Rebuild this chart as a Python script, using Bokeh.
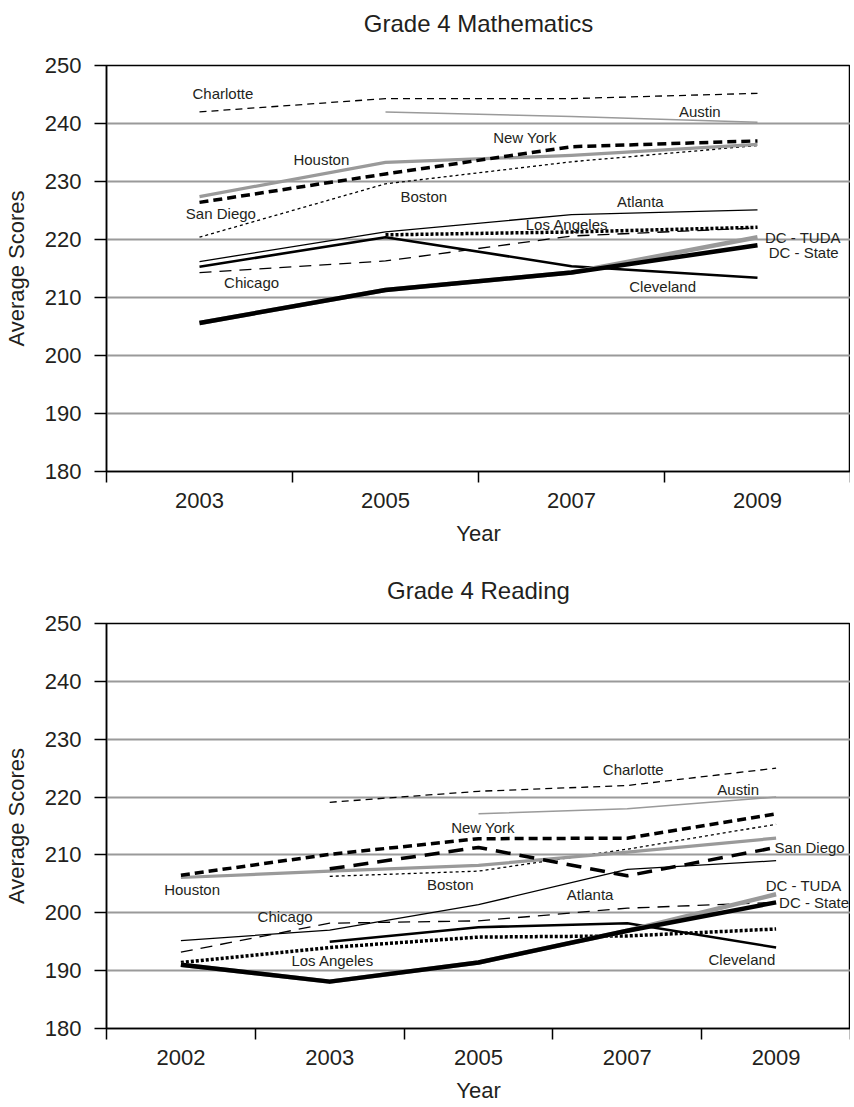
from bokeh.plotting import figure
from bokeh.models import Range1d, FixedTicker, ColumnDataSource, Title
from bokeh.layouts import column
from bokeh.embed import file_html
from bokeh.resources import INLINE
from bokeh.core.properties import value

# ---------------- data ----------------
math_years = ["2003", "2005", "2007", "2009"]
read_years = ["2002", "2003", "2005", "2007", "2009"]
y_ticks = [180, 190, 200, 210, 220, 230, 240, 250]

# Grade 4 Mathematics
m_charlotte = [242, 244.3, 244.3, 245.2]
m_austin = [None, 242, 241.2, 240.2]
m_houston = [227.4, 233.3, 234.5, 236.4]
m_new_york = [226.4, 231.3, 236, 237]
m_boston = [220.4, 229.6, 233.4, 236.2]
m_atlanta = [216.2, 221.3, 224.3, 225.1]
m_los_angeles = [None, 220.8, 221.3, 222.1]
m_chicago = [214.3, 216.3, 220.6, 222]
m_cleveland = [215.3, 220.4, 215.4, 213.4]
m_dc_tuda = [205.6, 211.3, 214.3, 220.4]
m_dc_state = [205.6, 211.3, 214.3, 219]

# Grade 4 Reading
r_charlotte = [None, 219.1, 221, 222, 225]
r_austin = [None, None, 217.1, 218, 220]
r_new_york = [206.5, 210.1, 212.8, 212.9, 217.1]
r_san_diego = [None, 207.6, 211.3, 206.4, 211.3]
r_houston = [206.1, 207.2, 208.2, 210.5, 212.9]
r_boston = [None, 206.3, 207.2, 211, 215.3]
r_atlanta = [195.2, 197, 201.4, 207.5, 209]
r_chicago = [193.2, 198.2, 198.6, 200.8, 201.8]
r_cleveland = [None, 195, 197.5, 198.2, 194]
r_los_angeles = [191.4, 194, 195.8, 196, 197.2]
r_dc_tuda = [191, 188.1, 191.4, 196.9, 203.2]
r_dc_state = [191, 188.1, 191.4, 196.9, 201.8]

# series label placement (category index, score)
m_label_names = ["Charlotte", "Austin", "New York", "Houston", "Boston", "San Diego",
                 "Atlanta", "Los Angeles", "DC - TUDA", "DC - State", "Chicago", "Cleveland"]
m_label_x = [0.126, 2.69, 1.75, 0.655, 1.206, 0.115, 2.37, 1.976, 3.04, 3.06, 0.28, 2.49]
m_label_y = [245.2, 242.1, 237.6, 233.8, 227.4, 224.5, 226.6, 222.6, 220.3, 217.8, 212.6, 211.9]
m_label_align = ["center"] * 8 + ["left", "left"] + ["center"] * 2

r_label_names = ["Charlotte", "Austin", "New York", "Houston", "Boston", "San Diego",
                 "Atlanta", "Los Angeles", "DC - TUDA", "DC - State", "Chicago", "Cleveland"]
r_label_x = [3.04, 3.745, 2.03, 0.075, 1.81, 3.99, 2.75, 1.02, 3.93, 4.02, 0.70, 3.77]
r_label_y = [224.8, 221.3, 214.8, 204.1, 204.9, 211.2, 203.2, 191.8, 204.8, 201.7, 199.4, 192.0]
r_label_align = ["center"] * 5 + ["left", "center", "center", "left", "left", "center", "center"]

FONT = "Liberation Sans"
TXT = "#231f20"
GRAY = "#9a9a9a"

STYLES = {
    "charlotte": dict(line_color="black", line_width=1.3, line_dash="7 5"),
    "austin": dict(line_color=GRAY, line_width=1.5),
    "houston": dict(line_color=GRAY, line_width=3.2),
    "new_york": dict(line_color="black", line_width=3.5, line_dash="9 5"),
    "san_diego": dict(line_color="black", line_width=3.5, line_dash="15 9"),
    "boston": dict(line_color="black", line_width=1.3, line_dash="3 3"),
    "atlanta": dict(line_color="black", line_width=1.3),
    "los_angeles": dict(line_color="black", line_width=3.5, line_dash="3 2"),
    "chicago": dict(line_color="black", line_width=1.3, line_dash="12 8"),
    "cleveland": dict(line_color="black", line_width=2.6),
    "dc_tuda": dict(line_color=GRAY, line_width=4.5),
    "dc_state": dict(line_color="black", line_width=4.5),
}


def make_fig(title, title_offset, spacer, years, series, lab_names, lab_x, lab_y, lab_align,
             height, top_border, bottom_border):
    n = len(years)
    p = figure(width=850, height=height, output_backend="svg", toolbar_location=None,
               x_range=Range1d(-0.5, n - 0.5), y_range=Range1d(180, 250),
               min_border_left=102, min_border_right=0,
               min_border_top=top_border, min_border_bottom=bottom_border)
    # invisible spacer between frame and the title
    p.add_layout(Title(text=" ", text_font_size="2px", standoff=spacer), "above")
    p.title.text = title
    p.title.align = "center"
    p.title.offset = title_offset
    p.title.text_font = FONT
    p.title.text_font_size = "24px"
    p.title.text_font_style = "normal"
    p.title.text_color = TXT
    p.title.standoff = 10

    p.outline_line_color = "black"
    p.outline_line_width = 1.5
    p.background_fill_color = "white"
    p.border_fill_color = "white"

    # x axis
    xa = p.xaxis[0]
    xa.ticker = FixedTicker(ticks=list(range(n)), minor_ticks=[i - 0.5 for i in range(n + 1)])
    xa.major_label_overrides = {i: years[i] for i in range(n)}
    xa.major_tick_line_color = None
    xa.major_tick_out = 0
    xa.major_tick_in = 0
    xa.minor_tick_line_color = "black"
    xa.minor_tick_line_width = 1.5
    xa.minor_tick_out = 11
    xa.minor_tick_in = 0
    xa.axis_line_color = "black"
    xa.axis_line_width = 1.5
    xa.major_label_text_font = FONT
    xa.major_label_text_font_size = "22px"
    xa.major_label_text_color = TXT
    xa.major_label_standoff = 10
    xa.axis_label = "Year"
    xa.axis_label_text_font = FONT
    xa.axis_label_text_font_size = "22px"
    xa.axis_label_text_font_style = "normal"
    xa.axis_label_text_color = TXT
    xa.axis_label_standoff = 10

    # y axis
    ya = p.yaxis[0]
    ya.ticker = FixedTicker(ticks=y_ticks)
    ya.major_tick_out = 12
    ya.major_tick_in = 0
    ya.major_tick_line_color = "black"
    ya.major_tick_line_width = 1.5
    ya.minor_tick_line_color = None
    ya.axis_line_color = "black"
    ya.axis_line_width = 1.5
    ya.major_label_text_font = FONT
    ya.major_label_text_font_size = "22px"
    ya.major_label_text_color = TXT
    ya.major_label_standoff = 13
    ya.axis_label = "Average Scores"
    ya.axis_label_text_font = FONT
    ya.axis_label_text_font_size = "22px"
    ya.axis_label_text_font_style = "normal"
    ya.axis_label_text_color = TXT
    ya.axis_label_standoff = 13

    p.xgrid.grid_line_color = None
    p.ygrid.ticker = FixedTicker(ticks=y_ticks)
    p.ygrid.grid_line_color = GRAY
    p.ygrid.grid_line_width = 2

    for key, vals in series:
        xs = [i for i, v in enumerate(vals) if v is not None]
        ys = [v for v in vals if v is not None]
        p.line(xs, ys, line_join="round", **STYLES[key])

    src = ColumnDataSource(dict(x=lab_x, y=lab_y, t=lab_names, a=lab_align))
    p.text(x="x", y="y", text="t", text_align="a", source=src, text_baseline="middle",
           text_font=value(FONT), text_font_size="15px", text_color=TXT)
    return p


math_series = [
    ("charlotte", m_charlotte), ("austin", m_austin), ("boston", m_boston),
    ("atlanta", m_atlanta), ("chicago", m_chicago), ("houston", m_houston),
    ("new_york", m_new_york), ("los_angeles", m_los_angeles), ("cleveland", m_cleveland),
    ("dc_tuda", m_dc_tuda), ("dc_state", m_dc_state),
]
read_series = [
    ("charlotte", r_charlotte), ("austin", r_austin), ("boston", r_boston),
    ("atlanta", r_atlanta), ("chicago", r_chicago), ("houston", r_houston),
    ("new_york", r_new_york), ("san_diego", r_san_diego), ("los_angeles", r_los_angeles),
    ("cleveland", r_cleveland), ("dc_tuda", r_dc_tuda), ("dc_state", r_dc_state),
]

p1 = make_fig("Grade 4 Mathematics", 6, 20, math_years, math_series, m_label_names,
              m_label_x, m_label_y, m_label_align, 550, 65, 79)
p2 = make_fig("Grade 4 Reading", 0, 11, read_years, read_series, r_label_names,
              r_label_x, r_label_y, r_label_align, 555, 73, 76)

layout = column(p1, p2, spacing=0)
open("out.html", "w").write(file_html(layout, INLINE))
